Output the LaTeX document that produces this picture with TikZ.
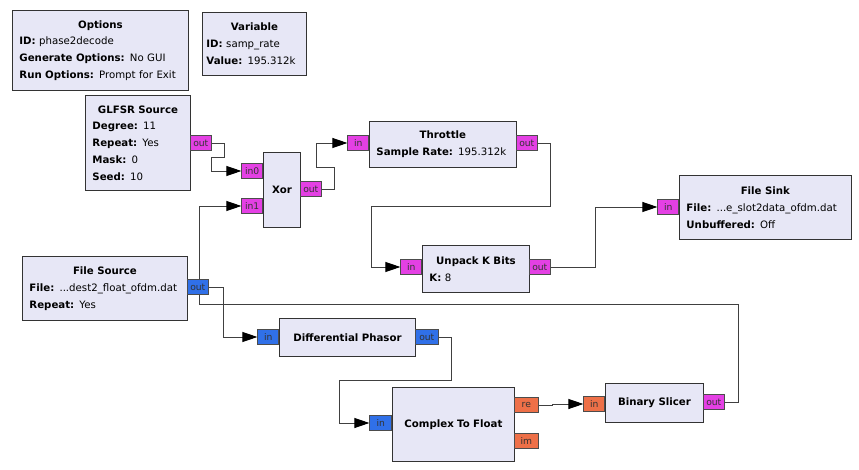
\documentclass[tikz,border=0pt]{standalone}
\usepackage{fontspec}
\setmainfont{DejaVu Sans}
\usetikzlibrary{arrows.meta,backgrounds}

\definecolor{blockbg}{RGB}{231,231,246}
\definecolor{bytecol}{RGB}{228,64,228}
\definecolor{cpxcol}{RGB}{48,112,232}
\definecolor{fltcol}{RGB}{238,112,72}

\newcommand{\btitle}[1]{\hfill\textbf{#1}\hfill\null}

\tikzset{
  blk/.style={draw=black!80, fill=blockbg, line width=0.9pt, anchor=north west,
    inner xsep=7pt, inner ysep=0pt, align=left,
    font=\fontsize{10.2}{16.8}\selectfont},
  cblk/.style={blk, align=center},
  port/.style={draw=black!70, line width=0.6pt, minimum width=21pt,
    minimum height=15pt, inner sep=0pt, text=black!80,
    font=\fontsize{9.2}{9.5}\selectfont},
  bport/.style={port, fill=bytecol},
  cport/.style={port, fill=cpxcol},
  fport/.style={port, fill=fltcol},
  wire/.style={draw=black!75, line width=0.9pt},
  arr/.style={wire, -{Triangle[length=15pt,width=10pt,color=black]}}
}

\begin{document}
\begin{tikzpicture}[x=1pt,y=-1pt]
\useasboundingbox (0,0) rectangle (859,470);

% blocks
\node[blk, text width=162pt, minimum height=80pt] (opt) at (12,10)
  {\btitle{Options}\\ \textbf{ID:} phase2decode\\ \textbf{Generate Options:} No GUI\\ \textbf{Run Options:} Prompt for Exit};
\node[blk, inner xsep=4pt, text width=96pt, minimum height=63pt] (var) at (202,12)
  {\btitle{Variable}\\ \textbf{ID:} samp\_rate\\ \textbf{Value:} 195.312k};
\node[blk, text width=91pt, minimum height=95pt] (glfsr) at (85,95)
  {\btitle{GLFSR Source}\\ \textbf{Degree:} 11\\ \textbf{Repeat:} Yes\\ \textbf{Mask:} 0\\ \textbf{Seed:} 10};
\node[cblk, text width=23pt, minimum height=75pt] (xor) at (263,152) {\textbf{Xor}};
\node[blk, text width=133pt, minimum height=46pt] (thr) at (369,121)
  {\btitle{Throttle}\\ \textbf{Sample Rate:} 195.312k};
\node[blk, text width=158pt, minimum height=64pt] (fsink) at (679,175)
  {\btitle{File Sink}\\ \textbf{File:} ...e\_slot2data\_ofdm.dat\\ \textbf{Unbuffered:} Off};
\node[blk, text width=93pt, minimum height=47pt] (unpack) at (422,245)
  {\btitle{Unpack K Bits}\\ \textbf{K:} 8};
\node[blk, text width=151pt, minimum height=64pt] (fsrc) at (22,256)
  {\btitle{File Source}\\ \textbf{File:} ...dest2\_float\_ofdm.dat\\ \textbf{Repeat:} Yes};
\node[cblk, text width=122pt, minimum height=38pt] (dph) at (279,318) {\textbf{Differential Phasor}};
\node[cblk, text width=108pt, minimum height=74pt] (c2f) at (392,387) {\textbf{Complex To Float}};
\node[cblk, text width=84pt, minimum height=39pt] (slicer) at (605,383) {\textbf{Binary Slicer}};

% ports
\node[bport, anchor=west] (glfsr-out) at (190,143) {out};
\node[bport, anchor=east] (xor-in0) at (263,171) {in0};
\node[bport, anchor=east] (xor-in1) at (263,206) {in1};
\node[bport, anchor=west] (xor-out) at (300,189) {out};
\node[bport, anchor=east] (thr-in) at (369,143) {in};
\node[bport, anchor=west] (thr-out) at (516,143) {out};
\node[bport, anchor=east] (fsink-in) at (679,207) {in};
\node[bport, anchor=east] (unpack-in) at (422,267) {in};
\node[bport, anchor=west] (unpack-out) at (529,267) {out};
\node[cport, anchor=west] (fsrc-out) at (187,287) {out};
\node[cport, anchor=east] (dph-in) at (279,337) {in};
\node[cport, anchor=west, minimum width=23pt] (dph-out) at (415,337) {out};
\node[cport, anchor=east, minimum width=22pt] (c2f-in) at (392,423) {in};
\node[fport, anchor=west, minimum width=24pt] (c2f-re) at (514,405) {re};
\node[fport, anchor=west, minimum width=24pt] (c2f-im) at (514,441) {im};
\node[fport, anchor=east] (slicer-in) at (605,404) {in};
\node[bport, anchor=west] (slicer-out) at (703,402) {out};

% connections
\begin{pgfonlayer}{background}
\draw[arr] (glfsr-out.east) -- ++(13,0) -- ++(0,14) -- ++(-13,0) |- (xor-in0.west);
\draw[arr] (xor-out.east) -- ++(13,0) -- ++(0,-22) -- ++(-18,0) |- (thr-in.west);
\draw[arr] (thr-out.east) -- ++(13,0) -- ++(0,63) -- ++(-179,0) |- (unpack-in.west);
\draw[arr] (unpack-out.east) -- ++(45,0) |- (fsink-in.west);
\draw[arr] (fsrc-out.east) -- ++(15,0) |- (dph-in.west);
\draw[arr] (dph-out.east) -- ++(13,0) -- ++(0,43) -- ++(-112,0) |- (c2f-in.west);
\draw[arr] (c2f-re.east) -- ++(14,0) |- (slicer-in.west);
\draw[arr] (slicer-out.east) -- ++(14,0) -- ++(0,-98) -- ++(-539,0) |- (xor-in1.west);
\end{pgfonlayer}
\end{tikzpicture}
\end{document}
